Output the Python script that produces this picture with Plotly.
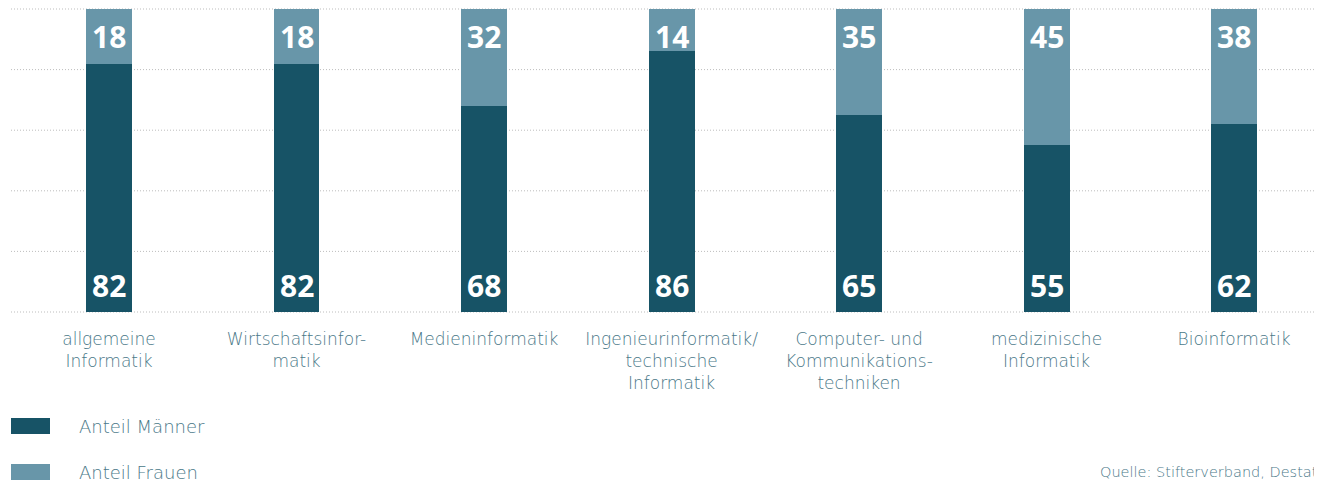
import plotly.graph_objects as go

categories = ["allgemeine<br>Informatik", "Wirtschaftsinfor-<br>matik", "Medieninformatik",
              "Ingenieurinformatik/<br>technische<br>Informatik",
              "Computer- und<br>Kommunikations-<br>techniken",
              "medizinische<br>Informatik", "Bioinformatik"]
maenner = [82, 82, 68, 86, 65, 55, 62]
frauen = [18, 18, 32, 14, 35, 45, 38]
series_names = ["Anteil Männer", "Anteil Frauen"]
grid_values = [0, 20, 40, 60, 80, 100]
source_text = "Quelle: Stifterverband, Destatis"

DARK = "#175366"
LIGHT = "#6896a9"
TXT = "#4a7888"
GRID = "#bdbdbd"
NUMFONT = "Open Sans"
FONT = "DejaVu Sans"

fig = go.Figure()
fig.add_trace(go.Bar(x=categories, y=maenner, name=series_names[0], marker_color=DARK,
                     marker_line_width=0, width=0.245, showlegend=False))
fig.add_trace(go.Bar(x=categories, y=frauen, name=series_names[1], marker_color=LIGHT,
                     marker_line_width=0, width=0.245, showlegend=False))

annotations = []
for c, m, f in zip(categories, maenner, frauen):
    annotations.append(dict(x=c, y=0, xref="x", yref="y", text=str(m), showarrow=False,
                            yanchor="bottom", yshift=4,
                            font=dict(family=NUMFONT, size=30, color="white", weight="bold")))
    annotations.append(dict(x=c, y=m + f, xref="x", yref="y", text=str(f), showarrow=False,
                            yanchor="top", yshift=-5,
                            font=dict(family=NUMFONT, size=30, color="white", weight="bold")))

# page is offset by 8px body margin; plot area on page: x 11..1322, y 8..313
def px_to_paper_x(px):
    return (px - 11) / 1311

def px_to_paper_y(py):
    return (313 - py) / 305

shapes = []
# dotted horizontal grid lines (drawn below the bars)
for g in grid_values:
    shapes.append(dict(type="line", xref="paper", yref="y", x0=0, x1=1, y0=g, y1=g,
                       layer="below", line=dict(color=GRID, width=1, dash="1px,2px")))

legend_rows = [(series_names[0], DARK, 426), (series_names[1], LIGHT, 472)]
for name, col, yc in legend_rows:
    shapes.append(dict(type="rect", xref="paper", yref="paper",
                       x0=px_to_paper_x(11), x1=px_to_paper_x(50),
                       y0=px_to_paper_y(yc + 8), y1=px_to_paper_y(yc - 8),
                       fillcolor=col, line_width=0))
    annotations.append(dict(x=px_to_paper_x(77), y=px_to_paper_y(yc), xref="paper", yref="paper",
                            text=name, showarrow=False, xanchor="left", yanchor="middle",
                            font=dict(family=FONT, size=18, color=TXT, weight=200)))

annotations.append(dict(x=px_to_paper_x(1098), y=px_to_paper_y(472), xref="paper", yref="paper",
                        text=source_text, showarrow=False,
                        xanchor="left", yanchor="middle",
                        font=dict(family=FONT, size=14.5, color=TXT, weight=200)))

fig.update_layout(
    barmode="stack",
    width=1314, height=473,
    margin=dict(l=3, r=0, t=0, b=168),
    paper_bgcolor="white", plot_bgcolor="white",
    annotations=annotations, shapes=shapes,
    xaxis=dict(type="category", range=[-0.5227, 6.469], showgrid=False, zeroline=False,
               showline=False, ticks="", ticklabelstandoff=14,
               tickfont=dict(family=FONT, size=17, color=TXT, weight=200)),
    yaxis=dict(range=[-0.33, 100.33], showticklabels=False,
               zeroline=False, showgrid=False),
)

fig.write_html("out.html")
